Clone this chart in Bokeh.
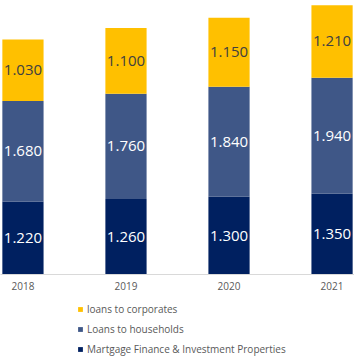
import numpy as np
from bokeh.plotting import figure
from bokeh.layouts import column
from bokeh.models import ColumnDataSource, Range1d, Legend, LegendItem, FixedTicker
from bokeh.core.properties import value
from bokeh.embed import file_html
from bokeh.resources import INLINE

years = ["2018", "2019", "2020", "2021"]
mortgage = [1220, 1260, 1300, 1350]
households = [1680, 1760, 1840, 1940]
corporates = [1030, 1100, 1150, 1210]
series_names = ["Martgage Finance & Investment Properties", "Loans to households", "loans to corporates"]
colors = ["#002060", "#3F5787", "#FFC000"]
label_colors = ["#FFFFFF", "#FFFFFF", "#404040"]

x = np.arange(len(years))
stacks = [np.array(mortgage), np.array(households), np.array(corporates)]

p = figure(width=354, height=296, output_backend="svg", toolbar_location=None,
           x_range=Range1d(-0.218, 3.218), y_range=Range1d(0, 4580),
           min_border_left=0, min_border_right=0, min_border_top=0, min_border_bottom=22,
           y_axis_location=None)
p.outline_line_color = None
p.grid.visible = False
p.background_fill_color = "white"
p.border_fill_color = "white"

bottom = np.zeros(len(years))
for vals, col, lcol in zip(stacks, colors, label_colors):
    top = bottom + vals
    src = ColumnDataSource(dict(x=x, bottom=bottom, top=top, mid=(bottom + top) / 2,
                                txt=[f"{v/1000:.3f}" for v in vals]))
    p.vbar(x="x", bottom="bottom", top="top", width=0.4, source=src,
           fill_color=col, line_color=None)
    p.text(x="x", y="mid", text="txt", source=src, text_align="center",
           text_baseline="middle", text_color=lcol, text_font=value("Open Sans"),
           text_font_size="15px")
    bottom = top

xa = p.xaxis[0]
xa.ticker = FixedTicker(ticks=list(x))
xa.major_label_overrides = {int(i): y for i, y in zip(x, years)}
xa.axis_line_color = "#D9D9D9"
xa.major_tick_line_color = None
xa.minor_tick_line_color = None
xa.major_tick_out = 0
xa.major_tick_in = 0
xa.major_label_text_color = "#595959"
xa.major_label_text_font = "Open Sans"
xa.major_label_text_font_size = "10px"
xa.major_label_standoff = 7

# legend panel below the chart
p2 = figure(width=354, height=61, output_backend="svg", toolbar_location=None,
            x_range=Range1d(0, 1), y_range=Range1d(0, 1),
            min_border_left=0, min_border_right=0, min_border_top=0, min_border_bottom=0,
            x_axis_location=None, y_axis_location=None)
p2.outline_line_color = None
p2.grid.visible = False
p2.border_fill_color = "white"
leg_renderers = []
for vals, c in zip(stacks, colors):
    r = p2.vbar(x=x, top=vals, width=0.4, fill_color=c, line_color=None)
    r.visible = False
    leg_renderers.append(r)
items = [LegendItem(label=series_names[i], renderers=[leg_renderers[i]]) for i in [2, 1, 0]]
legend = Legend(items=items, orientation="vertical", location=(77, 1),
                glyph_width=6, glyph_height=6, label_standoff=4,
                label_text_font="Open Sans", label_text_font_size="10px",
                label_text_color="#595959", label_height=13, spacing=6,
                padding=0, margin=0, border_line_color=None,
                background_fill_alpha=0, inactive_fill_alpha=0)
p2.add_layout(legend)

layout = column(p, p2, spacing=0)
open("out.html", "w").write(file_html(layout, INLINE))
